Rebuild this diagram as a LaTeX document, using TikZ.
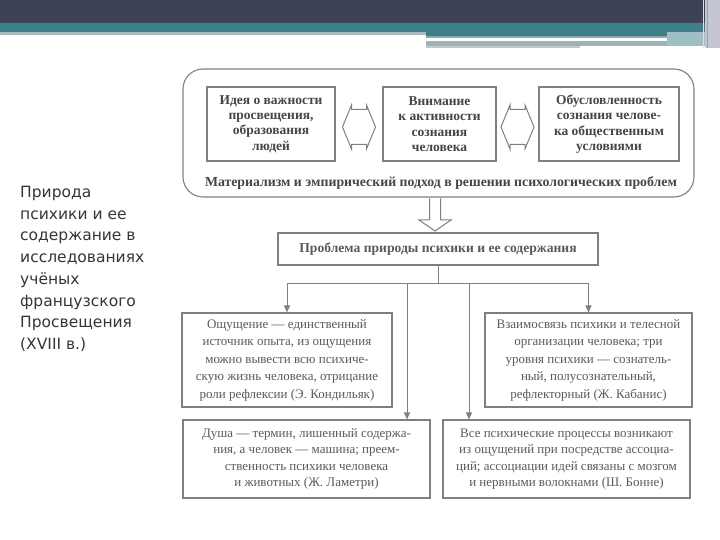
\documentclass[tikz,border=0pt]{standalone}
\usepackage{fontspec}
\setmainfont{Liberation Serif}
\newfontfamily\sidefont{DejaVu Sans}
\usetikzlibrary{arrows.meta,calc}
\definecolor{hdrdark}{HTML}{3E4256}
\definecolor{hdrpurple}{HTML}{4A4058}
\definecolor{hdrteal}{HTML}{3F8088}
\definecolor{hdrlight}{HTML}{A8BABE}
\definecolor{hdrgrey}{HTML}{A2B2B4}
\definecolor{hdrside}{HTML}{9EBFC4}
\definecolor{hdrlav}{HTML}{C6C6D2}
\definecolor{linegray}{HTML}{808080}
\definecolor{txtgray}{HTML}{5A5A5A}
\definecolor{boldgray}{HTML}{454545}
\definecolor{sidetxt}{HTML}{353535}
\tikzset{
  box/.style={draw=linegray, line width=1.1pt, fill=white, align=center, inner sep=0pt,
    text=txtgray, font=\fontsize{13}{17.5}\selectfont},
  lowbox/.style={box, font=\fontsize{13}{16.5}\selectfont},
  topbox/.style={box, text=boldgray, font=\bfseries\fontsize{13.5}{15.3}\selectfont},
  conn/.style={draw=linegray, line width=1pt},
  arr/.style={conn, -{Triangle[width=6pt,length=7pt]}},
  hollow/.style={draw=linegray, line width=1pt, fill=white, line join=miter}
}
\begin{document}
\begin{tikzpicture}[x=1pt,y=-1pt]
\useasboundingbox (0,0) rectangle (720,540);
% header
\fill[hdrdark] (0,0) rectangle (720,21);
\fill[hdrpurple] (0,21) rectangle (720,23);
\fill[hdrteal] (0,23) rectangle (705,32);
\fill[hdrlight] (0,32) rectangle (426,35);
\fill[hdrteal] (426,32) rectangle (670,36);
\fill[hdrgrey!80!hdrteal] (426,36) rectangle (667,38);
\fill[hdrgrey] (426,41.5) rectangle (667,46);
\fill[hdrgrey!70] (426,46) rectangle (580,48);
\fill[hdrside] (667,32) rectangle (705,46);
\fill[hdrlav] (705,0) rectangle (720,48);
\draw[hdrlav!60!white, line width=1pt] (703,0) -- (703,48);
\draw[hdrlav!80!black, line width=0.6pt] (707,0) -- (707,48);

% side title
\node[anchor=north west, align=left, inner sep=0pt, text=sidetxt,
  font=\sidefont\fontsize{15.5}{21.7}\selectfont] (side) at (20,186)
  {Природа\\психики и ее\\содержание в\\исследованиях\\учёных\\французского\\Просвещения\\(XVIII в.)};

% outer rounded frame
\node[draw=linegray, line width=1.1pt, rounded corners=20pt, minimum width=511, minimum height=128, inner sep=0pt] (outer) at (438.5,133) {};
\node[topbox, minimum width=128, minimum height=74] (b1) at (271,124)
  {Идея о важности\\просвещения,\\образования\\людей};
\node[topbox, minimum width=113, minimum height=74] (b2) at (439.5,124)
  {Внимание\\к активности\\сознания\\человека};
\node[topbox, minimum width=140, minimum height=74] (b3) at (609,124)
  {Обусловленность\\сознания челове-\\ка общественным\\условиями};
\node[text=boldgray, font=\bfseries\fontsize{13.8}{15}\selectfont, inner sep=0pt] (mat) at (441,183)
  {Материализм и эмпирический подход в решении психологических проблем};

% double arrows
\foreach \a/\b in {b1/b2, b2/b3}{
  \path ($(\a.east)!0.5!(\b.west)$) ++(0,3) coordinate (m);
  \draw[hollow] ($(m)+(-16.5,0)$) -- ++(9,-22) -- ++(0,4.5) -- ++(15,0) -- ++(0,-4.5)
    -- ($(m)+(16.5,0)$) -- ++(-9,22) -- ++(0,-4.5) -- ++(-15,0) -- ++(0,4.5) -- cycle;
}

% problem box
\node[box, minimum width=320, minimum height=32, font=\bfseries\fontsize{13.6}{15}\selectfont, text=txtgray] (prob) at (438,249)
  {Проблема природы психики и ее содержания};

% hollow down arrow
\coordinate (ha) at (435,198.5);
\draw[hollow] ($(ha)+(-5.5,0)$) -- ++(0,21.5) -- ++(-10.5,0) -- (435,231) -- ($(ha)+(16,21.5)$) -- ++(-10.5,0) -- ++(0,-21.5);

% lower boxes
\node[box, minimum width=210, minimum height=94] (r2l) at (287,360)
  {Ощущение — единственный\\источник опыта, из ощущения\\можно вывести всю психиче-\\скую жизнь человека, отрицание\\роли рефлексии (Э. Кондильяк)};
\node[box, minimum width=207, minimum height=94] (r2r) at (588.5,360)
  {Взаимосвязь психики и телесной\\организации человека; три\\уровня психики — сознатель-\\ный, полусознательный,\\рефлекторный (Ж. Кабанис)};
\node[lowbox, minimum width=247, minimum height=78] (r3l) at (306.5,459)
  {Душа — термин, лишенный содержа-\\ния, а человек — машина; преем-\\ственность психики человека\\и животных (Ж. Ламетри)};
\node[lowbox, minimum width=247, minimum height=78] (r3r) at (566.5,459)
  {Все психические процессы возникают\\из ощущений при посредстве ассоциа-\\ций; ассоциации идей связаны с мозгом\\и нервными волокнами (Ш. Бонне)};

% connectors
\coordinate (hub) at (438,283);
\coordinate (h3) at (407,283);
\coordinate (h4) at (469,283);
\draw[conn] (prob.south) -- (hub);
\draw[conn] (r2l.north |- hub) -- (r2r.north |- hub);
\draw[arr] (r2l.north |- hub) -- (r2l.north);
\draw[arr] (r2r.north |- hub) -- (r2r.north);
\draw[arr] (h3) -- (h3 |- r3l.north);
\draw[arr] (h4) -- (h4 |- r3r.north);
\end{tikzpicture}
\end{document}
